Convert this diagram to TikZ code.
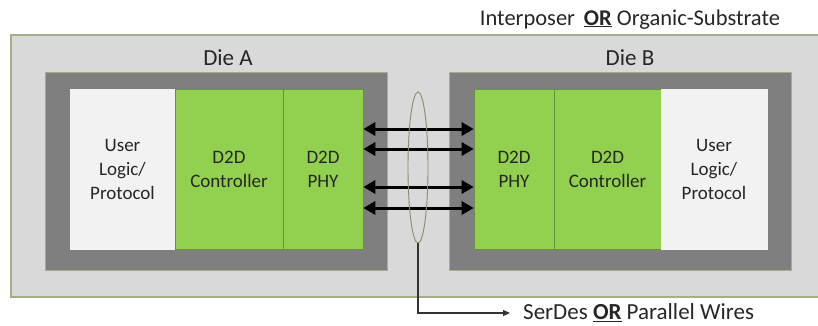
\documentclass[tikz,border=0pt]{standalone}
\usepackage{fontspec}
\setmainfont{Carlito}
\usepackage{tikz}
\usetikzlibrary{positioning,arrows.meta,shapes.geometric}

\definecolor{subgray}{HTML}{D9D9D9}
\definecolor{diegray}{HTML}{7F7F7F}
\definecolor{d2dgreen}{HTML}{92D050}
\definecolor{usrwhite}{HTML}{F2F2F2}
\definecolor{olive}{HTML}{A3B087}
\definecolor{txtgray}{HTML}{262626}

\begin{document}
\begin{tikzpicture}[
  x=1pt, y=-1pt,
  txt/.style={text=txtgray, inner sep=0pt},
  cell/.style={draw=d2dgreen!70!black, line width=0.6pt, minimum height=160, inner sep=0pt,
    align=center, text=txtgray, font=\fontsize{19}{24}\selectfont},
  d2d/.style={cell, fill=d2dgreen},
  usr/.style={cell, fill=usrwhite, draw=usrwhite},
  die/.style={fill=diegray, draw=olive, line width=0.6pt, minimum width=342, minimum height=198, inner sep=0pt},
  bus/.style={{Triangle[length=12pt,width=13pt]}-{Triangle[length=12pt,width=13pt]}, line width=3pt, black},
  lead/.style={-{Triangle[length=7pt,width=6pt]}, line width=1.2pt, black!80}
]
\useasboundingbox (0,0) rectangle (818,325);

% substrate (runs off the right edge)
\node[fill=subgray, draw=olive, line width=1.5pt, minimum width=811, minimum height=262, inner sep=0pt]
  (sub) at (416.5,166) {};
\node[txt, anchor=base, font=\fontsize{22.5}{27}\selectfont] (title) at (630,25)
  {Interposer \,\textbf{\underline{OR}} Organic-Substrate};

% the two dies
\node[die] (dieA) at (216,171) {};
\node[die] (dieB) at (620,171) {};
\node[txt, anchor=base, font=\fontsize{23}{28}\selectfont] (lblA) at (228,65) {Die A};
\node[txt, anchor=base, font=\fontsize{23}{28}\selectfont] (lblB) at (630,65) {Die B};

% Die A: user logic, controller, phy
\node[usr, minimum width=105] (usrA) at (122.5,169) {User\\Logic/\\Protocol};
\node[d2d, minimum width=108] (ctlA) at (229,169) {D2D\\Controller};
\node[d2d, minimum width=80]  (phyA) at (323,169) {D2D\\PHY};

% Die B: phy, controller, user logic
\node[d2d, minimum width=80]  (phyB) at (514,169) {D2D\\PHY};
\node[d2d, minimum width=107] (ctlB) at (607.5,169) {D2D\\Controller};
\node[usr, minimum width=106] (usrB) at (714,169) {User\\Logic/\\Protocol};

% die-to-die links
\foreach \y in {129,149,187,208}
  \draw[bus] (phyA.east |- 0,\y) -- (phyB.west |- 0,\y);

\node[ellipse, draw=olive!80!black, line width=0.9pt, minimum width=20, minimum height=151, inner sep=0pt]
  (bundle) at (418,167.5) {};

\node[txt, anchor=west, font=\fontsize{23}{28}\selectfont] (wires) at (523,313)
  {SerDes \textbf{\underline{OR}} Parallel Wires};
\draw[lead, shorten >=13pt] (bundle.south) |- (wires.west);

\end{tikzpicture}
\end{document}
